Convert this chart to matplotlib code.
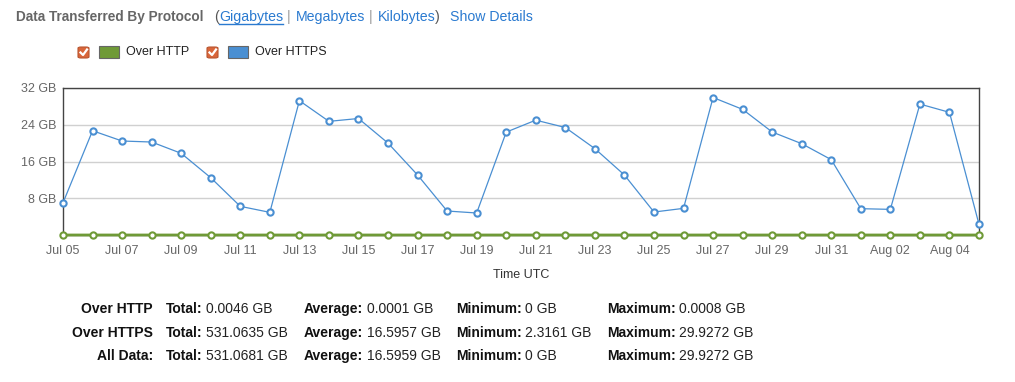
import numpy as np
import pandas as pd
import matplotlib
matplotlib.use("Agg")
from matplotlib import pyplot as plt
import matplotlib.dates as mdates
from matplotlib.patches import Rectangle, FancyBboxPatch

plt.rcParams['font.family'] = ['Liberation Sans', 'DejaVu Sans']

# data (GB per day)
dates = pd.date_range('2023-07-05', '2023-08-05', freq='D')
https_gb = [7.0, 22.7, 20.46, 20.24, 17.78, 12.47, 6.24, 4.93,
            29.24, 24.74, 25.36, 20.0, 13.06, 5.22, 4.79, 22.4,
            25.0, 23.4, 18.8, 13.06, 5.0, 5.8, 29.93, 27.35,
            22.42, 19.88, 16.4, 5.73, 5.58, 28.5, 26.7, 2.32]
http_gb = [0.0001] * 31 + [0.0008]

series_names = ['Over HTTP', 'Over HTTPS']
series_colors = ['#6f9a37', '#4a8fd2']
y_ticks = [8, 16, 24, 32]

row_labels = ['Over HTTP', 'Over HTTPS', 'All Data:']
totals = ['0.0046 GB', '531.0635 GB', '531.0681 GB']
averages = ['0.0001 GB', '16.5957 GB', '16.5959 GB']
minimums = ['0 GB', '2.3161 GB', '0 GB']
maximums = ['0.0008 GB', '29.9272 GB', '29.9272 GB']

W, H = 1015, 382
fig = plt.figure(figsize=(W / 100, H / 100), dpi=100)
renderer = fig.canvas.get_renderer()


def px(x, y):
    return x / W, 1 - y / H


def put(x, y, s, **kw):
    kw.setdefault('va', 'center')
    t = fig.text(*px(x, y), s, **kw)
    bb = t.get_window_extent(renderer)
    return t, bb.x1  # right edge in pixels


# header
link = '#2a7ad0'
fs = 10.2
_, x = put(16, 17, 'Data Transferred By Protocol', fontsize=9.8, weight='bold', color='#666666')
_, x = put(214, 17, '(', fontsize=fs, color='#555555')
t, x2 = put(x, 17, 'Gigabytes', fontsize=fs, color=link)
fig.add_artist(plt.Line2D([x / W, x2 / W], [1 - 24 / H] * 2, color=link, lw=1))
_, x = put(x2 + 4, 17, '|', fontsize=fs, color='#999999')
_, x = put(x + 5, 17, 'Megabytes', fontsize=fs, color=link)
_, x = put(x + 4, 17, '|', fontsize=fs, color='#999999')
_, x = put(x + 5, 17, 'Kilobytes', fontsize=fs, color=link)
_, x = put(x, 17, ')', fontsize=fs, color='#555555')
put(450, 17, 'Show Details', fontsize=fs, color=link)

# legend
def checkbox(x, y):
    fig.add_artist(FancyBboxPatch(px(x, y + 6), 11 / W, 11 / H,
                                  boxstyle='round,pad=0,rounding_size=0.003',
                                  transform=fig.transFigure, fc='#d9663a', ec='#b85530', lw=0.8))
    fig.add_artist(plt.Line2D([(x + 2.5) / W, (x + 5) / W, (x + 9) / W],
                              [1 - (y + 0.5) / H, 1 - (y + 3) / H, 1 - (y - 2.5) / H],
                              color='white', lw=1.6))


for lx, name, col in zip([78, 207], series_names, series_colors):
    checkbox(lx, 52)
    fig.add_artist(Rectangle(px(lx + 21, 58), 20 / W, 12 / H, transform=fig.transFigure,
                             fc=col, ec='#666666', lw=0.8))
    put(lx + 48, 52, name, fontsize=9, color='#222222')

# chart
ax = fig.add_axes([63 / W, 1 - 235 / H, 916 / W, 147 / H])
ax.plot(dates, https_gb, color=series_colors[1], lw=0.9, marker='o', ms=4.5,
        mfc='white', mec=series_colors[1], mew=1.5, clip_on=False, zorder=3)
ax.plot(dates, http_gb, color=series_colors[0], lw=2, marker='o', ms=4.5,
        mfc='white', mec=series_colors[0], mew=1.5, clip_on=False, zorder=4)

ax.set_xlim(dates[0], dates[-1])
ax.set_ylim(0, 32)
ax.set_yticks(y_ticks)
ax.set_yticklabels([f'{v} GB' for v in y_ticks])
ax.set_xticks(dates[::2])
ax.xaxis.set_major_formatter(mdates.DateFormatter('%b %d'))
ax.grid(axis='y', color='#d0d0d0', lw=1)
ax.set_axisbelow(True)
ax.tick_params(length=0, labelsize=9, colors='#666666', pad=5)
ax.tick_params(axis='x', pad=7)
for side in ['left', 'top', 'right', 'bottom']:
    ax.spines[side].set_color('#444444')
    ax.spines[side].set_linewidth(1)
ax.set_xlabel('Time UTC', fontsize=9, color='#333333', labelpad=9)

# summary table
rows_y = [309, 333, 356]
for i, y in enumerate(rows_y):
    put(153, y, row_labels[i], fontsize=10, weight='bold', color='#111111', ha='right')
    for cx, lab, vals in [(166, 'Total:', totals), (304, 'Average:', averages),
                          (456, 'Minimum:', minimums), (607, 'Maximum:', maximums)]:
        _, x = put(cx, y, lab, fontsize=10, weight='bold', color='#111111')
        put(x + 3.5, y, vals[i], fontsize=10, color='#222222')

fig.savefig('out.png', dpi=100)
